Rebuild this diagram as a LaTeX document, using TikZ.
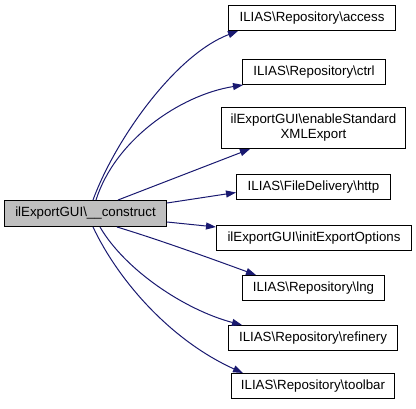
\documentclass[tikz,border=0pt]{standalone}
\usepackage{fontspec}
\setmainfont{Liberation Sans}
\usetikzlibrary{arrows.meta}
\definecolor{edgeblue}{HTML}{191970}
\definecolor{maingray}{HTML}{BFBFBF}
\begin{document}
\begin{tikzpicture}[x=1pt,y=-1pt,
  box/.style={draw=black,line width=1pt,fill=white,anchor=north west,inner sep=0pt,
    font=\fontsize{13.3}{15}\selectfont,align=center},
  edge/.style={draw=edgeblue,line width=1pt,-{Triangle[length=10pt,width=7pt]}}]
\useasboundingbox (0,0) rectangle (416,408);
\node[box,fill=maingray,minimum width=162pt,minimum height=26pt] (main) at (4,200) {ilExportGUI\textbackslash\_\_construct};
\node[box,minimum width=167pt,minimum height=25pt] (access) at (228,5) {ILIAS\textbackslash Repository\textbackslash access};
\node[box,minimum width=143pt,minimum height=25pt] (ctrl) at (242,59) {ILIAS\textbackslash Repository\textbackslash ctrl};
\node[box,minimum width=184pt,minimum height=41pt] (enable) at (221,107) {ilExportGUI\textbackslash enableStandard\\XMLExport};
\node[box,minimum width=154pt,minimum height=25pt] (http) at (236,174) {ILIAS\textbackslash FileDelivery\textbackslash http};
\node[box,minimum width=195pt,minimum height=25pt] (init) at (216,225) {ilExportGUI\textbackslash initExportOptions};
\node[box,minimum width=142pt,minimum height=25pt] (lng) at (242,275) {ILIAS\textbackslash Repository\textbackslash lng};
\node[box,minimum width=169pt,minimum height=25pt] (refinery) at (228,325) {ILIAS\textbackslash Repository\textbackslash refinery};
\node[box,minimum width=163pt,minimum height=25pt] (toolbar) at (231,373) {ILIAS\textbackslash Repository\textbackslash toolbar};
\draw[edge] ([xshift=89pt]main.north west) .. controls (115,140) and (175,55) .. ([xshift=10pt]access.south west);
\draw[edge] ([xshift=92pt]main.north west) .. controls (115,140) and (180,95) .. ([xshift=1pt]ctrl.south west);
\draw[edge] ([xshift=114pt]main.north west) -- ([xshift=29pt]enable.south west);
\draw[edge] ([yshift=-3pt]main.north east) -- ([yshift=-5.5pt]http.west);
\draw[edge] ([yshift=5pt]main.south east) -- ([yshift=-2pt]init.north west);
\draw[edge] ([xshift=113pt]main.south west) .. controls (160,240) and (215,260) .. ([xshift=14pt]lng.north west);
\draw[edge] ([xshift=96pt]main.south west) .. controls (125,270) and (185,310) .. ([xshift=14pt]refinery.north west);
\draw[edge] ([xshift=89pt]main.south west) .. controls (118,280) and (170,340) .. ([xshift=12pt]toolbar.north west);
\end{tikzpicture}
\end{document}
